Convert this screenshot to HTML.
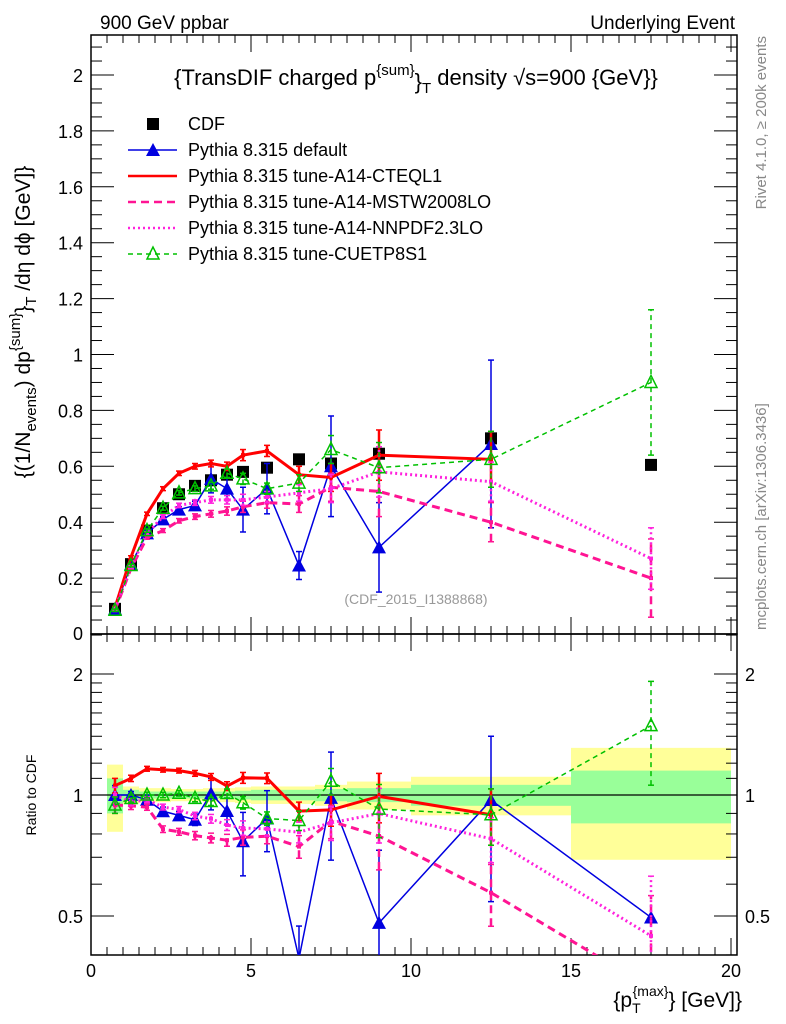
<!DOCTYPE html>
<html><head><meta charset="utf-8"><style>
html,body{margin:0;background:#fff;overflow:hidden;width:786px;height:1024px;}
svg{display:block;font-family:"Liberation Sans",sans-serif;}
</style></head><body>
<svg id="c" width="786" height="1024" viewBox="0 0 786 1024">
<defs>
<clipPath id="cm"><rect x="91" y="35" width="646" height="599"/></clipPath>
<clipPath id="cr"><rect x="91" y="634" width="646" height="321"/></clipPath>
</defs>
<g id="bands" clip-path="url(#cr)"></g>
<g id="axes"></g>
<g id="mainMarks" clip-path="url(#cm)"></g>
<g id="ratioMarks" clip-path="url(#cr)"></g>
<text x="100" y="29" font-size="19">900 GeV ppbar</text>
<text x="735" y="29" font-size="19" text-anchor="end">Underlying Event</text>
<text x="416" y="85" font-size="22" text-anchor="middle">{TransDIF charged p<tspan dy="-10" font-size="15">{sum}</tspan><tspan dy="14">}</tspan><tspan dy="4" font-size="15">T</tspan><tspan dy="-8"> density √s=900 {GeV}}</tspan></text>
<text transform="translate(30,322) rotate(-90)" font-size="21" text-anchor="middle">{(1/N<tspan dy="6" font-size="15">events</tspan><tspan dy="-6">) dp</tspan><tspan dy="-10" font-size="15">{sum}</tspan><tspan dy="10">}</tspan><tspan dy="6" font-size="15">T</tspan><tspan dy="-6"> /dη  dϕ [GeV]}</tspan></text>
<text transform="translate(36,795) rotate(-90)" font-size="14" text-anchor="middle">Ratio to CDF</text>
<text x="742" y="1007" font-size="21" text-anchor="end">{p<tspan dy="6" font-size="14">T</tspan><tspan dy="-17" font-size="14" dx="-8">{max}</tspan><tspan dy="11">} [GeV]}</tspan></text>
<text transform="translate(766,36) rotate(-90)" font-size="15" fill="#888" text-anchor="end">Rivet 4.1.0, ≥ 200k events</text>
<text transform="translate(766,630) rotate(-90)" font-size="15" fill="#888">mcplots.cern.ch [arXiv:1306.3436]</text>
<text x="416" y="604" font-size="14" fill="#999" text-anchor="middle">(CDF_2015_I1388868)</text>
<g id="legend"></g>
</svg>
<script>
const xs=[0.75,1.25,1.75,2.25,2.75,3.25,3.75,4.25,4.75,5.5,6.5,7.5,9,12.5,17.5];
const binLo=[0.5,1,1.5,2,2.5,3,3.5,4,4.5,5,6,7,8,10,15];
const binHi=[1,1.5,2,2.5,3,3.5,4,4.5,5,6,7,8,10,15,20];
const cdf=[0.09,0.25,0.37,0.45,0.50,0.53,0.55,0.57,0.58,0.595,0.625,0.61,0.645,0.70,0.605];
const cdfTot=[0.19,0.05,0.04,0.04,0.035,0.035,0.04,0.04,0.045,0.05,0.05,0.06,0.08,0.11,0.31];
const cdfStat=[0.10,0.03,0.02,0.02,0.02,0.02,0.02,0.02,0.025,0.03,0.03,0.035,0.04,0.06,0.15];
const def=[0.09,0.25,0.36,0.41,0.445,0.46,0.555,0.52,0.445,0.52,0.245,0.60,0.31,0.68,0.30];
const defErr=[0.005,0.005,0.01,0.01,0.01,0.015,0.05,0.04,0.08,0.09,0.05,0.18,0.16,0.30,0.0];
const cteq=[0.095,0.275,0.43,0.52,0.575,0.60,0.61,0.60,0.64,0.655,0.57,0.56,0.64,0.625,null];
const cteqErr=[0.004,0.005,0.006,0.007,0.008,0.01,0.012,0.015,0.02,0.02,0.03,0.05,0.09,0.1,0];
const mstw=[0.085,0.235,0.345,0.37,0.405,0.42,0.43,0.44,0.455,0.47,0.465,0.525,0.51,0.40,0.20];
const mstwErr=[0.004,0.005,0.006,0.007,0.008,0.01,0.012,0.015,0.02,0.02,0.03,0.05,0.09,0.07,0.14];
const nnpdf=[0.09,0.24,0.36,0.42,0.46,0.47,0.48,0.48,0.48,0.49,0.505,0.52,0.58,0.545,0.27];
const nnpdfErr=[0.004,0.005,0.006,0.007,0.008,0.01,0.012,0.015,0.02,0.02,0.03,0.05,0.09,0.07,0.11];
const cuetp=[0.085,0.245,0.37,0.45,0.505,0.52,0.53,0.575,0.555,0.52,0.54,0.66,0.595,0.625,0.90];
const cuetpErr=[0.004,0.005,0.006,0.007,0.008,0.01,0.012,0.015,0.02,0.02,0.03,0.05,0.09,0.1,0.26];
const mainTicks=[0.2,0.4,0.6,0.8,1,1.2,1.4,1.6,1.8,2];
const mainTickLabels=["0.2","0.4","0.6","0.8","1","1.2","1.4","1.6","1.8","2"];
const ratioTicks=[0.5,1,2];
const ratioTickLabels=["0.5","1","2"];
const xTicks=[0,5,10,15,20];
const xTickLabels=["0","5","10","15","20"];

const NS="http://www.w3.org/2000/svg";
const X=v=>91+v*32;
const YM=v=>634-v*279.5;
const YR=r=>795-Math.log2(r)*121;
function mk(p,tag,at){const e=document.createElementNS(NS,tag);for(const k in at)e.setAttribute(k,at[k]);p.appendChild(e);return e;}
const axes=document.getElementById('axes');
const bands=document.getElementById('bands');
const mm=document.getElementById('mainMarks');
const rm=document.getElementById('ratioMarks');
const lg=document.getElementById('legend');

for(let i=0;i<xs.length;i++){
  let e=mk(bands,'rect',{x:X(binLo[i]),width:X(binHi[i])-X(binLo[i]),y:YR(1+cdfTot[i]),height:YR(1-cdfTot[i])-YR(1+cdfTot[i]),fill:'#ffff99'});
  
  
  e=mk(bands,'rect',{x:X(binLo[i]),width:X(binHi[i])-X(binLo[i]),y:YR(1+cdfStat[i]),height:YR(1-cdfStat[i])-YR(1+cdfStat[i]),fill:'#99ff99'});
  
  
}
mk(axes,'rect',{x:91,y:35,width:646,height:599,fill:'none',stroke:'#000','stroke-width':1.5});
mk(axes,'rect',{x:91,y:634,width:646,height:321,fill:'none',stroke:'#000','stroke-width':1.5});
mk(axes,'line',{x1:91,x2:737,y1:YR(1),y2:YR(1),stroke:'#000','stroke-width':1.3});
for(let v=0;v<=20.01;v+=0.5){
  const maj=Math.abs(v%5)<1e-6, x=X(v);
  const L=maj?17:8;
  mk(axes,'line',{x1:x,x2:x,y1:634,y2:634-L,stroke:'#000'});
  mk(axes,'line',{x1:x,x2:x,y1:35,y2:35+L,stroke:'#000'});
  mk(axes,'line',{x1:x,x2:x,y1:955,y2:955-L,stroke:'#000'});
  mk(axes,'line',{x1:x,x2:x,y1:634,y2:634+L,stroke:'#000'});
}
xTicks.forEach((v,i)=>{const t=mk(axes,'text',{x:X(v),y:977,'font-size':18,'text-anchor':'middle'});t.textContent=xTickLabels[i];

});
for(let k=0;k<=43;k++){const v=k*0.05,y=YM(v);if(y<35)break;const maj=k%4==0;const L=maj?23:11;
  mk(axes,'line',{x1:91,x2:91+L,y1:y,y2:y,stroke:'#000'});mk(axes,'line',{x1:737,x2:737-L,y1:y,y2:y,stroke:'#000'});}
mainTicks.forEach((v,i)=>{const t=mk(axes,'text',{x:83,y:YM(v)+7,'font-size':18,'text-anchor':'end'});t.textContent=mainTickLabels[i];

});
{const t=mk(axes,'text',{x:83,y:640,'font-size':18,'text-anchor':'end'});t.textContent="0";}
[0.4,0.5,0.6,0.7,0.8,0.9,1,1.1,1.2,1.3,1.4,1.5,1.6,1.7,1.8,1.9,2,2.5].forEach(r=>{const y=YR(r);if(y<634||y>955)return;const maj=[0.5,1,2].includes(r);const L=maj?23:11;
  mk(axes,'line',{x1:91,x2:91+L,y1:y,y2:y,stroke:'#000'});mk(axes,'line',{x1:737,x2:737-L,y1:y,y2:y,stroke:'#000'});});
ratioTicks.forEach((v,i)=>{let t=mk(axes,'text',{x:83,y:YR(v)+7,'font-size':18,'text-anchor':'end'});t.textContent=ratioTickLabels[i];


t=mk(axes,'text',{x:745,y:YR(v)+7,'font-size':18});t.textContent=ratioTickLabels[i];

});

function marker(p,type,x,y,col){
  if(type=='sq')return mk(p,'rect',{x:x-6,y:y-6,width:12,height:12,fill:'#000'});
  if(type=='tri')return mk(p,'polygon',{points:`${x},${y-7} ${x-7},${y+6} ${x+7},${y+6}`,fill:col});
  if(type=='otri')return mk(p,'polygon',{points:`${x},${y-7} ${x-6},${y+5} ${x+6},${y+5}`,fill:'none',stroke:col,'stroke-width':1.5});
  if(type=='dot')return mk(p,'rect',{x:x-2,y:y-2,width:4,height:4,fill:col});
}
const series=[
 {name:'pythia-default',vals:def,err:defErr,col:'#0000e0',w:1.5,dash:'',m:'tri',mainMax:13},
 {name:'pythia-a14-cteql1',vals:cteq,err:cteqErr,col:'#ff0000',w:3,dash:'',m:'dot',mainMax:14},
 {name:'pythia-a14-mstw2008lo',vals:mstw,err:mstwErr,col:'#ff1493',w:3,dash:'8,5',m:'dot',mainMax:14},
 {name:'pythia-a14-nnpdf23lo',vals:nnpdf,err:nnpdfErr,col:'#ff22dd',w:3,dash:'2,3',m:'dot',mainMax:14},
 {name:'pythia-cuetp8s1',vals:cuetp,err:cuetpErr,col:'#00c000',w:1.5,dash:'5,4',m:'otri',mainMax:14}
];
function drawPanel(g,Y,ratio){
  if(!ratio){cdf.forEach((v,i)=>{const e=marker(g,'sq',X(xs[i]),Y(v));
    
    });}
  series.forEach(s=>{
    const pts=[];
    const ok=(v,i)=>v!=null&&(ratio||i<=s.mainMax);
    s.vals.forEach((v,i)=>{if(!ok(v,i))return;const val=ratio?v/cdf[i]:v;const er=ratio?s.err[i]/cdf[i]:s.err[i];
      const x=X(xs[i]),y=Y(val);pts.push(x+','+y);
      if(er>0){const y1=Y(Math.max(val-er,0.01)),y2=Y(val+er);
        const eb=mk(g,'line',{x1:x,x2:x,y1:y1,y2:y2,stroke:s.col,'stroke-width':s.w>2?2.5:1.5,'stroke-dasharray':s.dash});
        
        
        mk(g,'line',{x1:x-3,x2:x+3,y1:y1,y2:y1,stroke:s.col,'stroke-width':1.5});
        mk(g,'line',{x1:x-3,x2:x+3,y1:y2,y2:y2,stroke:s.col,'stroke-width':1.5});}
    });
    const pl=mk(g,'polyline',{points:pts.join(' '),fill:'none',stroke:s.col,'stroke-width':s.w,'stroke-dasharray':s.dash});
    
    
    s.vals.forEach((v,i)=>{if(!ok(v,i))return;const val=ratio?v/cdf[i]:v;const e=marker(g,s.m,X(xs[i]),Y(val),s.col);
      
      });
  });
}
drawPanel(mm,YM,false);
drawPanel(rm,YR,true);
const labels=["CDF","Pythia 8.315 default","Pythia 8.315 tune-A14-CTEQL1","Pythia 8.315 tune-A14-MSTW2008LO","Pythia 8.315 tune-A14-NNPDF2.3LO","Pythia 8.315 tune-CUETP8S1"];
labels.forEach((lab,i)=>{
  const y=124+i*26;
  const g=mk(lg,'g',{});
  
  
  if(i==0)marker(g,'sq',153,y);
  else{const s=series[i-1];mk(g,'line',{x1:128,x2:177,y1:y,y2:y,stroke:s.col,'stroke-width':s.w>2?2.5:1.5,'stroke-dasharray':s.dash});
    if(s.m!='dot')marker(g,s.m,153,y,s.col);}
  const t=mk(g,'text',{x:188,y:y+6,'font-size':18});t.textContent=lab;
});
</script>
</body></html>
